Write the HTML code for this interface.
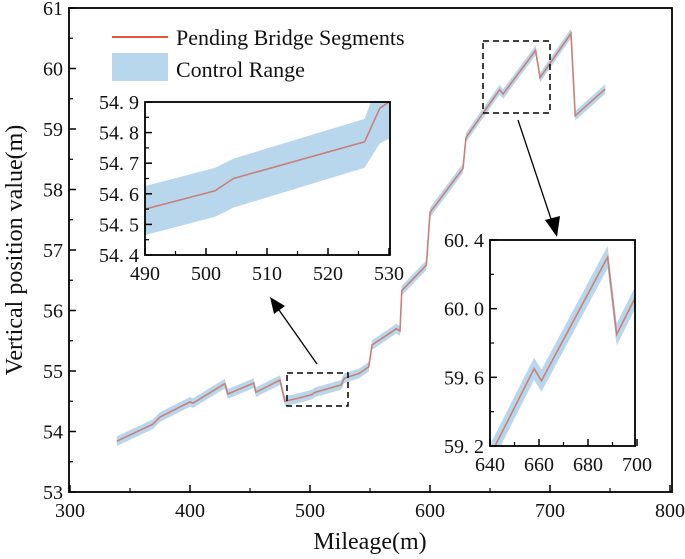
<!DOCTYPE html>
<html><head><meta charset="utf-8"><style>
html,body{margin:0;padding:0;width:685px;height:559px;overflow:hidden;background:#fff}
svg{display:block}
svg text{font-family:"Liberation Serif","Noto Serif CJK SC",serif;fill:#111}
</style></head><body>
<svg id="chart" width="685" height="559" viewBox="0 0 685 559" overflow="hidden"></svg>
<script>
const mileage=[339,369,375,400,402.5,429,431.5,453,455,475,479,490,501.5,504.5,526,528.5,541,549,551.7,572,575,576.5,597,600,627.5,630,658,661,688,691.7,717.5,721,746];
const position=[53.84,54.12,54.24,54.49,54.47,54.79,54.62,54.80,54.65,54.85,54.50,54.55,54.61,54.65,54.77,54.88,54.96,55.07,55.43,55.70,55.66,56.33,56.75,57.62,58.35,58.86,59.65,59.58,60.30,59.85,60.58,59.22,59.66];
const bandHalf=0.08;
const xTicks=[300,400,500,600,700,800];
const yTicks=[53,54,55,56,57,58,59,60,61];
const in1X=[490,501.5,504.5,526,528.5,530];
const in1Y=[54.55,54.61,54.65,54.77,54.88,54.90];
const in1Up=[54.625,54.685,54.715,54.845,54.98,55.0];
const in1Lo=[54.465,54.525,54.555,54.685,54.765,54.78];
const in1XTicks=[490,500,510,520,530];
const in1YTicks=[54.4,54.5,54.6,54.7,54.8,54.9];
const in2XTicks=[640,660,680,700];
const in2YTicks=[59.2,59.6,60.0,60.4];
const NS='http://www.w3.org/2000/svg';
const svg=document.getElementById('chart');
function el(t,a,p){const e=document.createElementNS(NS,t);for(const k in a)e.setAttribute(k,a[k]);(p||svg).appendChild(e);return e;}
function scale(d0,d1,r0,r1){return v=>r0+(v-d0)*(r1-r0)/(d1-d0);}
function bandPath(xs,up,lo,X,Y){let d='M'+xs.map((x,i)=>X(x)+','+Y(up[i])).join('L');for(let i=xs.length-1;i>=0;i--)d+='L'+X(xs[i])+','+Y(lo[i]);return d+'Z';}
function linePath(xs,ys,X,Y){return 'M'+xs.map((x,i)=>X(x)+','+Y(ys[i])).join('L');}
function axes(g,L,T,R,B,X,Y,xt,yt,xminor,yminor,fs,fmtx,fmty,lw){
  for(const v of xt){let t=el('line',{x1:X(v),x2:X(v),y1:B,y2:B-7,stroke:'#000','stroke-width':1.5},g);
    
    let l=el('text',{x:X(v),y:B+fs+5,'text-anchor':'middle','font-size':fs},g);l.textContent=fmtx(v);
    }
  for(const v of xminor){el('line',{x1:X(v),x2:X(v),y1:B,y2:B-4,stroke:'#000','stroke-width':1.2},g);}
  for(const v of yt){let t=el('line',{x1:L,x2:L+7,y1:Y(v),y2:Y(v),stroke:'#000','stroke-width':1.5},g);
    
    let l=el('text',{x:L-6,y:Y(v)+fs*0.35,'text-anchor':'end','font-size':fs},g);l.textContent=fmty(v);
    }
  for(const v of yminor){el('line',{x1:L,x2:L+4,y1:Y(v),y2:Y(v),stroke:'#000','stroke-width':1.2},g);}
  let f=el('rect',{x:L,y:T,width:R-L,height:B-T,fill:'none',stroke:'#000','stroke-width':lw},g);
  
}
const X=scale(300,800,70,670), Y=scale(53,61,492,8);
const gm=el('g',{});
let b=el('path',{d:bandPath(mileage,position.map(v=>v+bandHalf),position.map(v=>v-bandHalf),X,Y),fill:'#b9d7ec'},gm);

let ln=el('path',{d:linePath(mileage,position,X,Y),fill:'none',stroke:'#c98078','stroke-width':1.6},gm);

axes(gm,69,8,672,492,X,Y,xTicks,yTicks,[350,450,550,650,750],[53.5,54.5,55.5,56.5,57.5,58.5,59.5,60.5],20,v=>v,v=>v,1.8);
let xl=el('text',{x:370,y:549,'text-anchor':'middle','font-size':24});xl.textContent='Mileage(m)';

let yl=el('text',{x:0,y:0,'text-anchor':'middle','font-size':24,transform:'translate(22,250) rotate(-90)'});yl.textContent='Vertical position value(m)';

let lg=el('g',{});
el('line',{x1:112,x2:168,y1:37,y2:37,stroke:'#e8533a','stroke-width':2},lg);
let t1=el('text',{x:176,y:45,'font-size':22},lg);t1.textContent='Pending Bridge Segments';

el('rect',{x:112,y:53,width:56,height:28,fill:'#b9d7ec'},lg);
let t2=el('text',{x:176,y:77,'font-size':22},lg);t2.textContent='Control Range';

let d1=el('rect',{x:287,y:373,width:61,height:33,fill:'none',stroke:'#000','stroke-width':1.5,'stroke-dasharray':'6,4'});

let d2=el('rect',{x:483,y:41,width:67,height:72,fill:'none',stroke:'#000','stroke-width':1.5,'stroke-dasharray':'6,4'});

el('line',{x1:317,x2:279,y1:364,y2:310,stroke:'#000','stroke-width':1.3});
el('polygon',{points:'270,297 274,314 285,306',fill:'#000'});
el('line',{x1:518,x2:552,y1:120,y2:222,stroke:'#000','stroke-width':1.3});
el('polygon',{points:'557,237 545,220 560,216',fill:'#000'});
const gi1=el('g',{});
el('rect',{x:145,y:102,width:245,height:153,fill:'#fff'},gi1);
el('clipPath',{id:'c1'}).appendChild(el('rect',{x:145,y:102,width:245,height:153}));
const X1=scale(490,530,145,389), Y1=scale(54.4,54.9,255,102);
const gc1=el('g',{'clip-path':'url(#c1)'},gi1);
el('path',{d:bandPath(in1X,in1Up,in1Lo,X1,Y1),fill:'#b9d7ec'},gc1);
el('path',{d:linePath(in1X,in1Y,X1,Y1),fill:'none',stroke:'#c98078','stroke-width':1.6},gc1);
axes(gi1,145,102,390,255,X1,Y1,in1XTicks,in1YTicks,[495,505,515,525],[54.45,54.55,54.65,54.75,54.85],20,v=>v,v=>v.toFixed(1).replace('.','. '),1.8);
const gi2=el('g',{});
el('rect',{x:490,y:240,width:145,height:206,fill:'#fff'},gi2);
el('clipPath',{id:'c2'}).appendChild(el('rect',{x:490,y:240,width:145,height:206}));
const X2=scale(640,700,490,637), Y2=scale(59.2,60.4,446,240);
const gc2=el('g',{'clip-path':'url(#c2)'},gi2);
el('path',{d:bandPath(mileage,position.map(v=>v+0.065),position.map(v=>v-0.065),X2,Y2),fill:'#b9d7ec'},gc2);
el('path',{d:linePath(mileage,position,X2,Y2),fill:'none',stroke:'#c98078','stroke-width':1.6},gc2);
axes(gi2,490,240,635,446,X2,Y2,in2XTicks,in2YTicks,[650,670,690],[59.4,59.8,60.2],20,v=>v,v=>v.toFixed(1).replace('.','. '),1.8);
</script>
</body></html>
